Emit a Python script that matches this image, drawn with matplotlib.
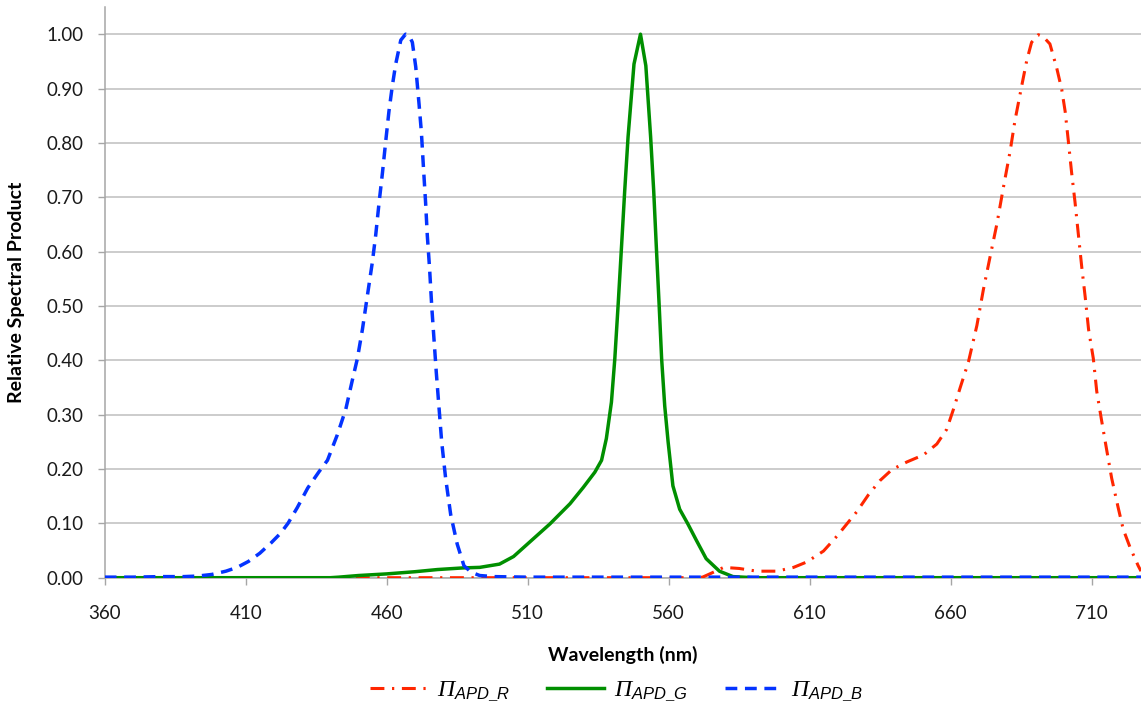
import matplotlib
matplotlib.use("Agg")
import matplotlib.pyplot as plt
from matplotlib.ticker import FormatStrFormatter

# ---- data ----
wl_R = [360, 400, 450, 500, 550, 570, 572, 575, 579.5, 585, 591.3, 598.4, 604.3, 609, 614.9,
        619.6, 623.2, 626.8, 630.9, 635, 639.2, 644.5, 650.4, 655.1, 658.6, 661, 663.4,
        666.3, 669.3, 671.6, 674, 676.4, 678.7, 681.1, 682.8, 685.2, 687, 688.7, 691.1,
        692.9, 695.2, 697.6, 699.4, 700.6, 701.7, 702.9, 704.1, 705.3, 706.5, 707.7,
        708.9, 710.6, 711.8, 713.5, 715.3, 717.1, 719.4, 721.2, 723.6, 726.5, 727.5]
val_R = [0.0, 0.0, 0.0, 0.0, 0.0, 0.0, 0.001, 0.008, 0.019, 0.017, 0.012, 0.012, 0.019, 0.029, 0.049,
         0.076, 0.099, 0.122, 0.153, 0.179, 0.199, 0.213, 0.226, 0.246, 0.273, 0.310, 0.350,
         0.397, 0.464, 0.530, 0.591, 0.651, 0.718, 0.785, 0.841, 0.905, 0.952, 0.985, 0.999,
         0.995, 0.982, 0.938, 0.898, 0.858, 0.805, 0.745, 0.691, 0.631, 0.571, 0.517,
         0.457, 0.403, 0.343, 0.290, 0.236, 0.183, 0.129, 0.089, 0.056, 0.022, 0.012]

wl_G = [360, 400, 440, 443, 450, 460, 470, 478, 487, 493, 500, 505, 510.8, 517.9, 525, 529.7,
        533.8, 536.2, 537.9, 539.7, 540.9, 542.1, 543.3, 544.4, 545.6, 547.7, 550, 551.9,
        553.6, 554.7, 555.6, 556.6, 557.5, 558.6, 559.8, 561.5, 563.9, 566.8, 569.8, 573.3,
        578, 582.8, 590, 650, 727.5]
val_G = [0.0, 0.0, 0.0, 0.001, 0.004, 0.007, 0.011, 0.015, 0.018, 0.019, 0.025, 0.039, 0.066, 0.099, 0.136, 0.166,
         0.194, 0.216, 0.256, 0.323, 0.403, 0.504, 0.611, 0.711, 0.811, 0.945, 1.000, 0.942,
         0.811, 0.711, 0.611, 0.504, 0.403, 0.316, 0.250, 0.169, 0.126, 0.099, 0.069, 0.035,
         0.012, 0.002, 0.0, 0.0, 0.0]

wl_B = [360, 370, 380, 388, 393, 398, 403, 407, 411, 415, 419, 422.4, 425, 428.3, 432, 436, 439,
        442.5, 445.5, 447.8, 449.6, 451.4, 453.1, 454.9, 456.1, 457.3, 458.5, 459.7, 460.8,
        462, 463.2, 465, 466.7, 468, 469.1, 470.3, 471.5, 472.3, 473, 473.8, 474.4, 475.2,
        476, 476.8, 477.6, 478.6, 479.5, 480.9, 482.7, 485, 487.4, 490, 493, 498, 510, 600, 727.5]
val_B = [0.001, 0.001, 0.002, 0.002, 0.003, 0.006, 0.012, 0.019, 0.030, 0.045, 0.064, 0.082, 0.100, 0.129, 0.165, 0.195, 0.216,
         0.263, 0.310, 0.363, 0.403, 0.457, 0.517, 0.580, 0.630, 0.690, 0.745, 0.805, 0.858,
         0.905, 0.945, 0.989, 1.000, 0.997, 0.985, 0.940, 0.870, 0.820, 0.758, 0.690, 0.630, 0.570,
         0.497, 0.437, 0.377, 0.310, 0.250, 0.183, 0.116, 0.062, 0.022, 0.010, 0.004, 0.002, 0.001, 0.001, 0.001]

labels = [r'$\mathrm{Π}_{\mathit{APD\_R}}$', r'$\mathrm{Π}_{\mathit{APD\_G}}$', r'$\mathrm{Π}_{\mathit{APD\_B}}$']
x_ticks = [360, 410, 460, 510, 560, 610, 660, 710]
y_ticks = [0.0, 0.1, 0.2, 0.3, 0.4, 0.5, 0.6, 0.7, 0.8, 0.9, 1.0]

# ---- style ----
plt.rcParams['font.family'] = ['Lato', 'DejaVu Sans']
plt.rcParams['lines.scale_dashes'] = False
plt.rcParams['mathtext.fontset'] = 'custom'
plt.rcParams['mathtext.rm'] = 'Liberation Serif:italic'
plt.rcParams['mathtext.it'] = 'Liberation Sans:italic'

fig = plt.figure(figsize=(11.41, 7.12), dpi=100)
ax = fig.add_axes([104.7 / 1141, 1 - 577.7 / 712, 1 - 104.7 / 1141, (577.7 - 7) / 712])

ax.plot(wl_R, val_R, color='#FF2600', lw=2.2, dashes=(10.0, 5.5, 1.6, 5.5), label=labels[0],
        solid_capstyle='butt', dash_capstyle='butt', zorder=3)
ax.plot(wl_G, val_G, color='#008F00', lw=2.5, label=labels[1], zorder=3)
ax.plot(wl_B, val_B, color='#0433FF', lw=2.5, dashes=(8.5, 5.5), label=labels[2],
        dash_capstyle='butt', zorder=4)

ax.set_xlim(360, 727.5)
ax.set_ylim(0, 1.05)
ax.set_xticks(x_ticks)
ax.set_yticks(y_ticks)
ax.yaxis.set_major_formatter(FormatStrFormatter('%.2f'))

ax.grid(axis='y', color='#BEBEBE', lw=1.1)
ax.set_axisbelow(True)
for s in ['top', 'right']:
    ax.spines[s].set_visible(False)
for s in ['left', 'bottom']:
    ax.spines[s].set_color('#A6A6A6')
    ax.spines[s].set_linewidth(1.1)

ax.tick_params(axis='x', length=5, width=1.0, color='#A6A6A6', pad=15, labelsize=13.5, labelcolor='#1a1a1a')
ax.tick_params(axis='y', length=5, width=1.0, color='#A6A6A6', pad=10, labelsize=13.5, labelcolor='#1a1a1a')

ax.set_xlabel('Wavelength (nm)', fontsize=14, fontweight='bold')
ax.xaxis.set_label_coords(0.5, -0.12)
ax.set_ylabel('Relative Spectral Product', fontsize=14, fontweight='bold')
ax.yaxis.set_label_coords(-0.077, 0.5)

leg = fig.legend(loc='center', bbox_to_anchor=(617 / 1141, 1 - 692 / 712), ncol=3, frameon=False,
                 fontsize=17, handlelength=2.4, handletextpad=0.4, columnspacing=1.6)

fig.savefig('out.png', dpi=100)
